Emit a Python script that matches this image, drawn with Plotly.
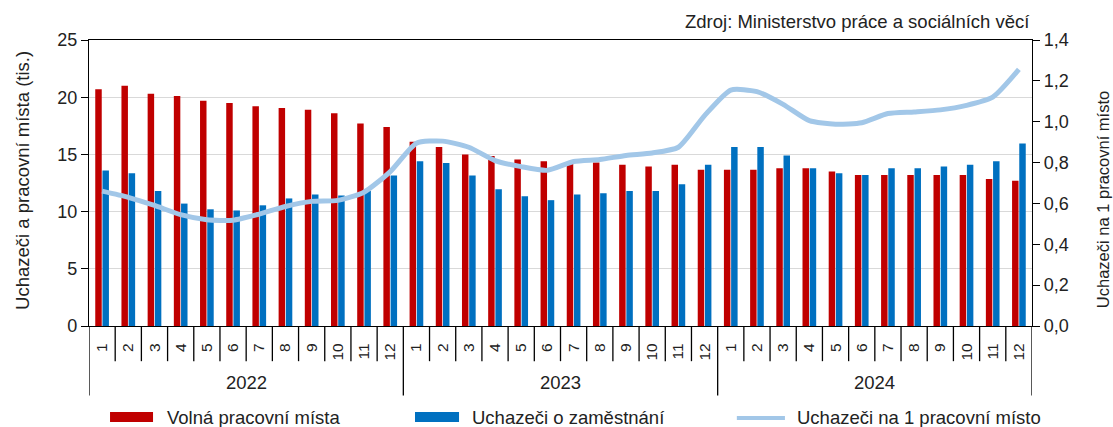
import plotly.graph_objects as go

years = ["2022", "2023", "2024"]
months = [str(m) for m in range(1, 13)]
month_labels = months * 3

volna_mista = [20.7, 21.0, 20.3, 20.1, 19.7, 19.5, 19.2, 19.05, 18.9, 18.6, 17.7, 17.4,
               16.1, 15.65, 15.0, 14.85, 14.55, 14.4, 14.25, 14.3, 14.1, 13.95, 14.1, 13.65,
               13.65, 13.65, 13.8, 13.8, 13.5, 13.2, 13.2, 13.2, 13.2, 13.2, 12.85, 12.7]
uchazeci = [13.6, 13.35, 11.8, 10.7, 10.2, 10.1, 10.55, 11.15, 11.5, 11.4, 11.8, 13.15,
            14.4, 14.25, 13.15, 11.95, 11.35, 11.0, 11.5, 11.6, 11.8, 11.8, 12.4, 14.1,
            15.65, 15.65, 14.9, 13.8, 13.35, 13.2, 13.8, 13.8, 13.95, 14.1, 14.4, 15.95]
na_misto = [0.66, 0.63, 0.59, 0.545, 0.52, 0.518, 0.548, 0.585, 0.61, 0.615, 0.655, 0.756,
            0.895, 0.905, 0.875, 0.81, 0.78, 0.762, 0.805, 0.815, 0.835, 0.847, 0.875, 1.03,
            1.155, 1.147, 1.085, 1.005, 0.988, 0.995, 1.04, 1.048, 1.058, 1.08, 1.12, 1.256]

n = len(month_labels)
xs = list(range(n))

RED = "#c00000"
BLUE = "#0070c0"
LIGHT = "#a2c7e8"
TXT = "#222222"
FONT = "Liberation Sans, Arial, sans-serif"

fig = go.Figure()
fig.add_trace(go.Bar(x=xs, y=volna_mista, name="Volná pracovní místa",
                     marker=dict(color=RED, line=dict(width=0)), showlegend=False))
fig.add_trace(go.Bar(x=xs, y=uchazeci, name="Uchazeči o zaměstnání",
                     marker=dict(color=BLUE, line=dict(width=0)), showlegend=False))
fig.add_trace(go.Scatter(x=xs, y=na_misto, name="Uchazeči na 1 pracovní místo", yaxis="y2",
                         mode="lines", line=dict(color=LIGHT, width=5, shape="spline", smoothing=0.6),
                         showlegend=False))

shapes = []
# month dividers
for i in range(n - 1):
    is_year = (i + 1) % 12 == 0
    shapes.append(dict(type="line", xref="x", yref="paper", x0=i + 0.5, x1=i + 0.5,
                       y0=0, y1=-0.243 if is_year else -0.123,
                       line=dict(color="black", width=1.3)))
# axis extensions downward
for xv in (-0.5, n - 0.5):
    shapes.append(dict(type="line", xref="x", yref="paper", x0=xv, x1=xv, y0=0, y1=-0.243,
                       line=dict(color="black", width=1.3)))

# manual legend
shapes.append(dict(type="rect", xref="paper", yref="paper", x0=0.0223, x1=0.0679,
                   y0=-0.301, y1=-0.336, fillcolor=RED, line=dict(width=0)))
shapes.append(dict(type="rect", xref="paper", yref="paper", x0=0.3457, x1=0.3924,
                   y0=-0.301, y1=-0.336, fillcolor=BLUE, line=dict(width=0)))
shapes.append(dict(type="line", xref="paper", yref="paper", x0=0.687, x1=0.738,
                   y0=-0.322, y1=-0.322, line=dict(color=LIGHT, width=4)))

annotations = []
for k, yr in enumerate(years):
    annotations.append(dict(x=k * 12 + 5.5, xref="x", y=-0.197, yref="paper", text=yr,
                            showarrow=False, xanchor="center", yanchor="middle",
                            font=dict(size=18.5, color=TXT)))
legend_texts = [("Volná pracovní místa", 0.0806), ("Uchazeči o zaměstnání", 0.404),
                ("Uchazeči na 1 pracovní místo", 0.7487)]
for t, xp in legend_texts:
    annotations.append(dict(x=xp, xref="paper", y=-0.319, yref="paper", text=t,
                            showarrow=False, xanchor="left", yanchor="middle",
                            font=dict(size=18.5, color=TXT)))
annotations.append(dict(x=1.0, xref="paper", y=1.065, yref="paper",
                        text="Zdroj: Ministerstvo práce a sociálních věcí",
                        showarrow=False, xanchor="right", yanchor="middle",
                        font=dict(size=18.5, color=TXT)))
annotations.append(dict(x=-0.0705, xref="paper", y=0.509, yref="paper",
                        text="Uchazeči a pracovní místa (tis.)", textangle=-90,
                        showarrow=False, xanchor="center", yanchor="middle",
                        font=dict(size=18.5, color=TXT)))
annotations.append(dict(x=1.0753, xref="paper", y=0.44, yref="paper",
                        text="Uchazeči na 1 pracovní místo", textangle=-90,
                        showarrow=False, xanchor="center", yanchor="middle",
                        font=dict(size=16.5, color=TXT)))

fig.update_layout(
    width=1113, height=427,
    margin=dict(l=89, r=81, t=40, b=100.5, autoexpand=False),
    paper_bgcolor="white", plot_bgcolor="white",
    font=dict(family=FONT, color=TXT, size=16),
    separators=", ",
    barmode="group", bargap=0.45, bargroupgap=0.1,
    shapes=shapes, annotations=annotations,
    xaxis=dict(range=[-0.5, n - 0.5], tickvals=xs, ticktext=month_labels, tickangle=-90,
               ticks="", showline=True, linecolor="black", linewidth=1.3, mirror=True,
               showgrid=False, zeroline=False, tickfont=dict(size=15.5, color=TXT),
               ticklabelstandoff=10),
    yaxis=dict(range=[0, 25], dtick=5, ticks="outside", ticklen=7, tickcolor="black",
               showline=True, linecolor="black", linewidth=1.3, showgrid=True,
               gridcolor="#d9d9d9", gridwidth=1.3, zeroline=False,
               tickfont=dict(size=18, color=TXT)),
    yaxis2=dict(range=[0, 1.4], dtick=0.2, tickformat=".1f", overlaying="y", side="right",
                ticks="outside", ticklen=7, tickcolor="black", showline=True,
                linecolor="black", linewidth=1.3, showgrid=False, zeroline=False,
                tickfont=dict(size=18, color=TXT)),
)

fig.write_html("out.html", config={"displayModeBar": False},
               post_script="document.body.style.margin='0';document.body.style.overflow='hidden';")
